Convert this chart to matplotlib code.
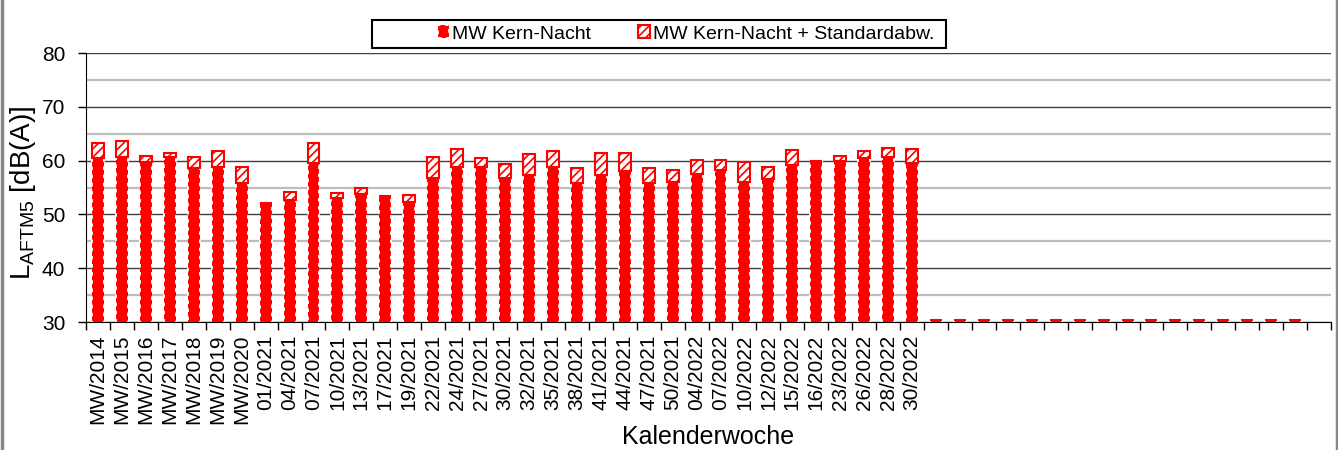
import matplotlib
matplotlib.use("Agg")
import matplotlib.pyplot as plt
from matplotlib.ticker import MultipleLocator
from matplotlib.patches import Rectangle
from matplotlib.lines import Line2D
import numpy as np

plt.rcParams['font.family'] = ['Liberation Sans', 'DejaVu Sans']
plt.rcParams['mathtext.fontset'] = 'custom'
plt.rcParams['mathtext.rm'] = 'Liberation Sans'
plt.rcParams['hatch.linewidth'] = 1.2

# calendar weeks (last 17 slots are empty in the source chart)
weeks = ["MW/2014", "MW/2015", "MW/2016", "MW/2017", "MW/2018", "MW/2019", "MW/2020",
         "01/2021", "04/2021", "07/2021", "10/2021", "13/2021", "17/2021", "19/2021",
         "22/2021", "24/2021", "27/2021", "30/2021", "32/2021", "35/2021", "38/2021",
         "41/2021", "44/2021", "47/2021", "50/2021", "04/2022", "07/2022", "10/2022",
         "12/2022", "15/2022", "16/2022", "23/2022", "26/2022", "28/2022", "30/2022"]
empty_slots = 17

# mean night level
mw = [60.5, 60.7, 59.8, 60.7, 58.6, 58.8, 55.8,
      52.1, 52.7, 59.6, 53.0, 53.8, 53.5, 52.4,
      56.7, 58.8, 58.9, 56.7, 57.3, 58.8, 55.9,
      57.3, 58.1, 55.8, 56.1, 57.6, 58.3, 56.1,
      56.5, 59.2, 60.0, 60.0, 60.4, 60.7, 59.6]
# mean + standard deviation (top of stacked bar)
mw_sd = [63.3, 63.6, 60.9, 61.5, 60.7, 61.8, 58.9,
         52.1, 54.2, 63.2, 53.9, 55.0, 53.5, 53.7,
         60.6, 62.1, 60.4, 59.3, 61.2, 61.7, 58.7,
         61.5, 61.5, 58.6, 58.3, 60.1, 60.2, 59.7,
         58.9, 62.0, 60.0, 60.9, 61.8, 62.4, 62.2]
empty_val = 30.3

labels = weeks + [""] * empty_slots
mw_all = np.array(mw + [empty_val] * (empty_slots - 1) + [np.nan])
sd_all = np.array([t - m for t, m in zip(mw_sd, mw)] + [0] * (empty_slots - 1) + [np.nan])
x = np.arange(len(labels))

fig = plt.figure(figsize=(13.38, 4.5), dpi=100)
ax = fig.add_axes([0.0643, 0.2844, 0.9305, 0.5978])

b1 = ax.bar(x, mw_all, width=0.5, color='#ff0000', edgecolor='white',
            linewidth=1.3, linestyle=(0, (2, 2.5)), label='MW Kern-Nacht', zorder=3)
b2 = ax.bar(x, sd_all, width=0.5, bottom=mw_all, color='white', edgecolor='#ff0000',
            hatch='////', linewidth=1.5, label='MW Kern-Nacht + Standardabw.', zorder=3)

ax.set_ylim(30, 80)
ax.set_xlim(-0.5, len(labels) - 0.5)
ax.yaxis.set_major_locator(MultipleLocator(10))
ax.yaxis.set_minor_locator(MultipleLocator(5))
ax.grid(which='major', axis='y', color='#404040', linewidth=1.0, zorder=0)
ax.grid(which='minor', axis='y', color='#bdbdbd', linewidth=1.6, zorder=0)
ax.set_axisbelow(True)

ax.set_xticks(x)
ax.set_xticklabels(labels, rotation=90, fontsize=15)
ax.set_xticks(np.arange(len(labels) + 1) - 0.5, minor=True)
ax.tick_params(axis='x', which='major', length=0, pad=9)
ax.tick_params(axis='x', which='minor', length=6, width=1, direction='out')
ax.tick_params(axis='y', which='major', labelsize=15, length=6, width=1, pad=9)
ax.tick_params(axis='y', which='minor', length=0)

for s in ['top', 'right']:
    ax.spines[s].set_visible(False)
ax.spines['left'].set_color('black')
ax.spines['bottom'].set_color('black')

ax.set_ylabel(r'L$_{\mathregular{AFTM5}}$ [dB(A)]', fontsize=20)
ax.yaxis.set_label_coords(-0.0386, 0.48)
ax.set_xlabel('Kalenderwoche', fontsize=18, labelpad=1)

# legend box drawn separately (wide excel-style frame)
fig.add_artist(Rectangle((372 / 1338, 1 - 48 / 450), 574 / 1338, 28 / 450,
                         transform=fig.transFigure, fill=False, ec='black', lw=1.5))
fig.legend(handles=[b1, b2], loc='center left', bbox_to_anchor=(428 / 1338, 1 - 34 / 450),
           ncol=2, fontsize=14, frameon=False,
           handlelength=0.6, handleheight=0.6, handletextpad=0.15,
           columnspacing=2.4, borderpad=0)

# grey side borders of the original image
fig.add_artist(Line2D([1.5 / 1338, 1.5 / 1338], [0, 1], transform=fig.transFigure,
                      color='#888888', lw=2.5))
fig.add_artist(Line2D([1336.5 / 1338, 1336.5 / 1338], [0, 1], transform=fig.transFigure,
                      color='#888888', lw=2.5))

fig.savefig('out.png', dpi=100)
